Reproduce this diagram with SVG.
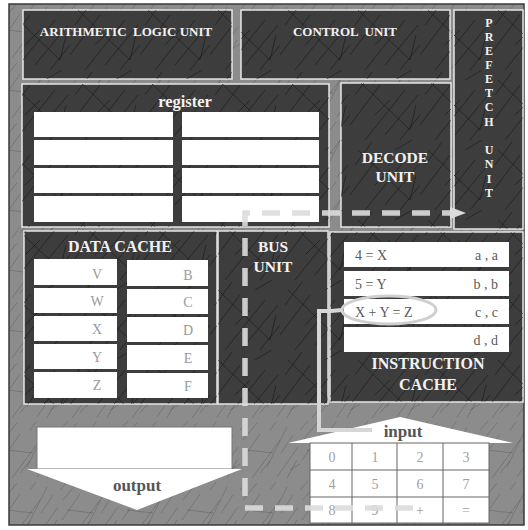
<svg xmlns="http://www.w3.org/2000/svg" width="528" height="530" viewBox="0 0 528 530">
<style>
.box{fill:#3d3d3d;stroke:#e6e6e6;stroke-width:1.5}
.tex{fill:url(#scratchDark)}
.t{font-family:"Liberation Serif","Times New Roman",serif;font-weight:bold;fill:#f2f2f2}
.cell{fill:#ffffff}
.ct{font-family:"Liberation Serif","Times New Roman",serif;font-size:14px;fill:#9a9a9a}
.it{font-family:"Liberation Serif","Times New Roman",serif;font-size:14px;fill:#5a5a5a}
.io{font-family:"Liberation Serif","Times New Roman",serif;font-size:17px;fill:#555555;font-weight:bold}
.kp{font-family:"Liberation Serif","Times New Roman",serif;font-size:14px;fill:#a0a0a0;text-anchor:middle}
</style>
<defs>
<pattern id="scratchLight" width="60" height="60" patternUnits="userSpaceOnUse">
<g stroke="#2a2a2a" stroke-opacity="0.4" stroke-width="0.6" fill="none">
<path d="M2 40 L20 14 M12 58 L40 20 M27 47 L47 7 M37 57 L58 27 M3 20 L17 3 M47 58 L57 40 M7 30 L33 33 M20 53 L30 41 M41 33 L53 15 M0 10 L8 1 M50 50 L60 44 M30 10 L36 2"/>
</g>
</pattern>
<pattern id="scratchDark" width="70" height="70" patternUnits="userSpaceOnUse">
<g stroke="#0d0d0d" stroke-opacity="0.6" stroke-width="0.8" fill="none">
<path d="M0 55 L30 15 M15 70 L55 20 M35 65 L68 25 M50 70 L70 45 M5 25 L22 2 M25 45 L40 30 M8 10 L60 60 M45 10 L62 0 M60 60 L66 35"/>
</g>
</pattern>
<marker id="arrow" markerUnits="userSpaceOnUse" markerWidth="18" markerHeight="16" refX="2" refY="8" orient="auto">
<path d="M0 2 L16 8 L0 14 Z" fill="#dcdcdc"/>
</marker>
</defs>

<rect x="9" y="4" width="515" height="521" fill="#8c8c8c" stroke="#3a3a3a" stroke-width="1.5"/>
<rect x="9" y="4" width="515" height="521" fill="url(#scratchLight)"/>

<g id="alu">
<rect class="box" x="23" y="10" width="209" height="69"/>
<rect class="tex" x="23" y="10" width="209" height="69"/>
<text class="t" x="126" y="36" font-size="13" text-anchor="middle" xml:space="preserve">ARITHMETIC  LOGIC UNIT</text>
</g>

<g id="control">
<rect class="box" x="241" y="10" width="209" height="69"/>
<rect class="tex" x="241" y="10" width="209" height="69"/>
<text class="t" x="345" y="36" font-size="13" text-anchor="middle" xml:space="preserve">CONTROL  UNIT</text>
</g>

<g id="prefetch">
<rect class="box" x="454" y="10" width="69" height="219"/>
<rect class="tex" x="454" y="10" width="69" height="219"/>
<g class="t" font-size="12" text-anchor="middle">
<text x="489" y="27">P</text>
<text x="489" y="41">R</text>
<text x="489" y="55">E</text>
<text x="489" y="69">F</text>
<text x="489" y="83">E</text>
<text x="489" y="97">T</text>
<text x="489" y="111">C</text>
<text x="489" y="126">H</text>
<text x="489" y="154">U</text>
<text x="489" y="168">N</text>
<text x="489" y="183">I</text>
<text x="489" y="197">T</text>
</g>
</g>

<g id="register">
<rect class="box" x="22" y="84" width="307" height="143"/>
<rect class="tex" x="22" y="84" width="307" height="143"/>
<text class="t" x="185" y="107" font-size="16.5" text-anchor="middle">register</text>
<rect class="cell" x="34" y="112" width="139" height="25"/>
<rect class="cell" x="182" y="112" width="137" height="25"/>
<rect class="cell" x="34" y="140" width="139" height="25"/>
<rect class="cell" x="182" y="140" width="137" height="25"/>
<rect class="cell" x="34" y="168" width="139" height="25"/>
<rect class="cell" x="182" y="168" width="137" height="25"/>
<rect class="cell" x="34" y="196" width="139" height="26"/>
<rect class="cell" x="182" y="196" width="137" height="26"/>
</g>

<g id="decode">
<rect class="box" x="341" y="83" width="110" height="144"/>
<rect class="tex" x="341" y="83" width="110" height="144"/>
<text class="t" x="395" y="163" font-size="15.5" text-anchor="middle">DECODE</text>
<text class="t" x="395" y="182" font-size="15.5" text-anchor="middle">UNIT</text>
</g>

<g id="datacache">
<rect class="box" x="24" y="231" width="193" height="173"/>
<rect class="tex" x="24" y="231" width="193" height="173"/>
<text class="t" x="120" y="252" font-size="16" text-anchor="middle">DATA CACHE</text>
<rect class="cell" x="34" y="259" width="83" height="26"/>
<rect class="cell" x="127" y="260" width="81" height="26"/>
<rect class="cell" x="34" y="288" width="83" height="25"/>
<rect class="cell" x="127" y="289" width="81" height="25"/>
<rect class="cell" x="34" y="316" width="83" height="25"/>
<rect class="cell" x="127" y="317" width="81" height="25"/>
<rect class="cell" x="34" y="344" width="83" height="25"/>
<rect class="cell" x="127" y="345" width="81" height="25"/>
<rect class="cell" x="34" y="372" width="83" height="26"/>
<rect class="cell" x="127" y="373" width="81" height="25"/>
<g class="ct" text-anchor="middle">
<text x="97" y="279">V</text>
<text x="97" y="306">W</text>
<text x="97" y="334">X</text>
<text x="97" y="362">Y</text>
<text x="97" y="390">Z</text>
<text x="188" y="280">B</text>
<text x="188" y="307">C</text>
<text x="188" y="335">D</text>
<text x="188" y="363">E</text>
<text x="188" y="391">F</text>
</g>
</g>

<g id="bus">
<rect class="box" x="218" y="231" width="110" height="173"/>
<rect class="tex" x="218" y="231" width="110" height="173"/>
<text class="t" x="273" y="252" font-size="15.5" text-anchor="middle">BUS</text>
<text class="t" x="273" y="272" font-size="15.5" text-anchor="middle">UNIT</text>
</g>

<g id="icache">
<rect class="box" x="330" y="232" width="193" height="170"/>
<rect class="tex" x="330" y="232" width="193" height="170"/>
<rect class="cell" x="344" y="242" width="165" height="25"/>
<rect class="cell" x="344" y="271" width="165" height="25"/>
<rect class="cell" x="344" y="299" width="165" height="25"/>
<rect class="cell" x="344" y="327" width="165" height="25"/>
<text class="it" x="355" y="260" xml:space="preserve">4 = X</text>
<text class="it" x="355" y="289" xml:space="preserve">5 = Y</text>
<text class="it" x="355" y="317" xml:space="preserve">X + Y = Z</text>
<g class="it" text-anchor="end" xml:space="preserve">
<text x="498" y="260">a , a</text>
<text x="498" y="289">b , b</text>
<text x="498" y="317">c , c</text>
<text x="498" y="345">d , d</text>
</g>
<ellipse cx="389" cy="310" rx="47" ry="14" fill="none" stroke="#cfcfcf" stroke-width="3"/>
<text class="t" x="428" y="369" font-size="16" text-anchor="middle">INSTRUCTION</text>
<text class="t" x="428" y="390" font-size="16" text-anchor="middle">CACHE</text>
</g>

<g id="output">
<rect x="37" y="427" width="195" height="42" fill="#ffffff" stroke="#777" stroke-width="1"/>
<polygon points="27,469 242,469 137,510" fill="#ffffff"/>
<text class="io" x="137" y="491" text-anchor="middle">output</text>
</g>

<g id="input">
<polygon points="288,443 400,417 513,443" fill="#ffffff"/>
<text class="io" x="403" y="437" text-anchor="middle">input</text>
<rect x="310" y="443" width="179" height="80" fill="#ffffff" stroke="#666" stroke-width="1"/>
<g stroke="#666" stroke-width="1">
<line x1="352" y1="443" x2="352" y2="523"/>
<line x1="397" y1="443" x2="397" y2="523"/>
<line x1="443" y1="443" x2="443" y2="523"/>
<line x1="310" y1="470" x2="489" y2="470"/>
<line x1="310" y1="497" x2="489" y2="497"/>
</g>
<g class="kp">
<text x="332" y="462">0</text>
<text x="375" y="462">1</text>
<text x="420" y="462">2</text>
<text x="466" y="462">3</text>
<text x="332" y="489">4</text>
<text x="375" y="489">5</text>
<text x="420" y="489">6</text>
<text x="466" y="489">7</text>
<text x="332" y="515">8</text>
<text x="375" y="515">9</text>
<text x="420" y="515">+</text>
<text x="466" y="515">=</text>
</g>
</g>

<g id="connectors" fill="none">
<path d="M413 508 H245 V213 H452" stroke="#dcdcdc" stroke-opacity="0.9" stroke-width="5.5" stroke-dasharray="18 12" marker-end="url(#arrow)"/>
<path d="M342 310 L331 311 H319 V430 H372" stroke="#d6d6d6" stroke-width="4"/>
</g>
</svg>
